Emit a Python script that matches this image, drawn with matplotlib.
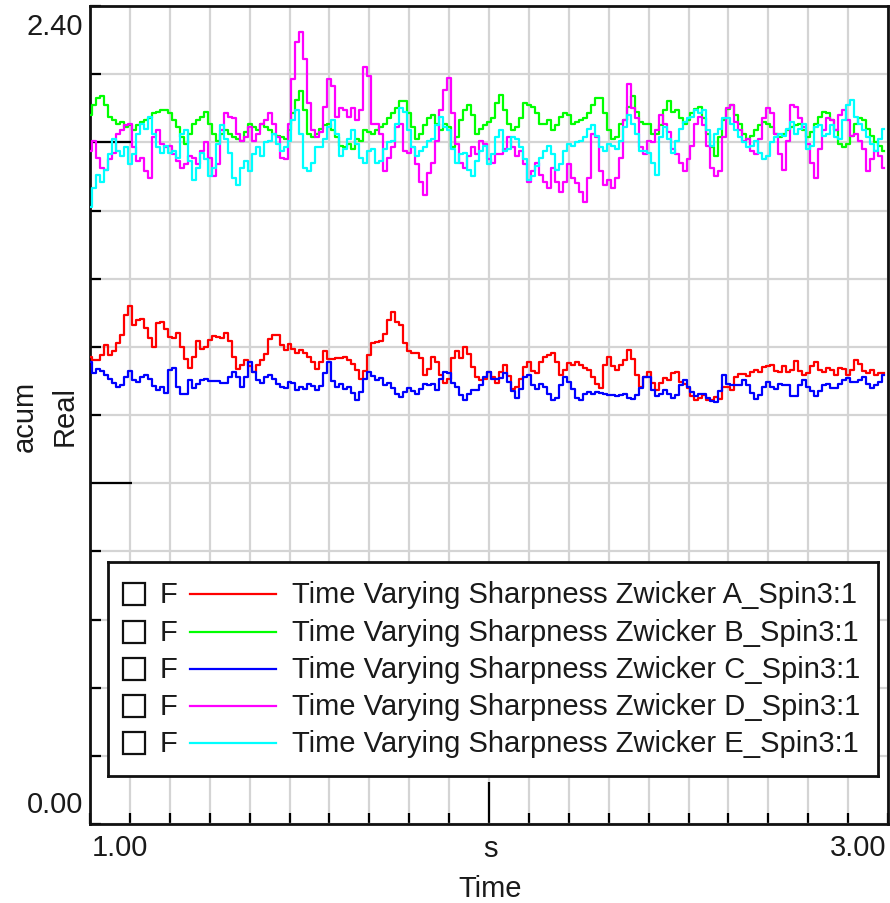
import numpy as np
import matplotlib
matplotlib.use("Agg")
import matplotlib.pyplot as plt
from matplotlib.patches import Rectangle
from matplotlib.ticker import MultipleLocator, FixedLocator

plt.rcParams["font.family"] = ["Liberation Sans", "DejaVu Sans"]

# ─── Data: time-varying Zwicker sharpness, 5 channels (acum) ────────────────

t_start, t_step = 1.00, 0.01

sharp_a = [
    1.371, 1.361, 1.361, 1.376, 1.405, 1.376, 1.388, 1.410, 1.435, 1.493,
    1.520, 1.464, 1.479, 1.483, 1.454, 1.425, 1.400, 1.469, 1.474, 1.451,
    1.430, 1.425, 1.440, 1.400, 1.363, 1.337, 1.371, 1.418, 1.395, 1.400,
    1.420, 1.432, 1.430, 1.425, 1.440, 1.418, 1.371, 1.334, 1.346, 1.361,
    1.343, 1.327, 1.346, 1.361, 1.379, 1.422, 1.435, 1.435, 1.405, 1.390,
    1.408, 1.395, 1.383, 1.392, 1.383, 1.369, 1.356, 1.334, 1.356, 1.388,
    1.363, 1.363, 1.366, 1.366, 1.371, 1.361, 1.349, 1.332, 1.307, 1.330,
    1.376, 1.412, 1.415, 1.418, 1.437, 1.480, 1.503, 1.474, 1.464, 1.412,
    1.388, 1.383, 1.383, 1.366, 1.317, 1.334, 1.371, 1.356, 1.317, 1.294,
    1.307, 1.366, 1.388, 1.366, 1.400, 1.379, 1.341, 1.312, 1.302, 1.307,
    1.326, 1.312, 1.294, 1.327, 1.346, 1.314, 1.275, 1.283, 1.307, 1.341,
    1.356, 1.330, 1.324, 1.356, 1.371, 1.375, 1.381, 1.356, 1.317, 1.332,
    1.353, 1.347, 1.356, 1.346, 1.339, 1.332, 1.312, 1.290, 1.278, 1.346,
    1.371, 1.343, 1.332, 1.348, 1.361, 1.392, 1.363, 1.317, 1.283, 1.312,
    1.326, 1.294, 1.273, 1.294, 1.310, 1.304, 1.322, 1.327, 1.296, 1.292,
    1.278, 1.255, 1.243, 1.251, 1.258, 1.245, 1.243, 1.253, 1.248, 1.283,
    1.283, 1.273, 1.312, 1.320, 1.320, 1.314, 1.326, 1.332, 1.326, 1.341,
    1.343, 1.346, 1.330, 1.327, 1.343, 1.327, 1.332, 1.359, 1.330, 1.318,
    1.322, 1.345, 1.355, 1.332, 1.326, 1.339, 1.332, 1.317, 1.339, 1.334,
    1.317, 1.332, 1.361, 1.351, 1.328, 1.322, 1.332, 1.317, 1.322, 1.322,
]

sharp_b = [
    2.080, 2.110, 2.130, 2.135, 2.110, 2.075, 2.065, 2.055, 2.060, 2.045,
    2.050, 2.035, 2.050, 2.060, 2.065, 2.070, 2.085, 2.090, 2.095, 2.095,
    2.085, 2.065, 2.045, 2.015, 1.995, 2.025, 2.055, 2.065, 2.075, 2.090,
    2.055, 2.025, 2.005, 2.025, 2.035, 2.025, 2.015, 2.010, 2.005, 2.030,
    2.055, 2.045, 2.035, 2.055, 2.045, 2.035, 2.025, 2.020, 2.015, 2.010,
    2.035, 2.085, 2.125, 2.150, 2.095, 2.025, 2.015, 2.025, 2.040, 2.050,
    2.055, 2.035, 2.015, 1.990, 1.985, 1.995, 1.980, 2.010, 2.005, 2.035,
    2.030, 2.025, 2.035, 2.045, 2.055, 2.070, 2.085, 2.100, 2.120, 2.120,
    2.085, 2.045, 2.010, 2.025, 2.050, 2.070, 2.080, 2.055, 2.035, 2.055,
    2.045, 1.985, 2.015, 2.065, 2.095, 2.110, 2.080, 2.025, 2.040, 2.050,
    2.060, 2.070, 2.115, 2.140, 2.095, 2.055, 2.035, 2.045, 2.070, 2.115,
    2.110, 2.105, 2.085, 2.055, 2.055, 2.065, 2.035, 2.050, 2.075, 2.085,
    2.080, 2.055, 2.060, 2.065, 2.070, 2.085, 2.110, 2.130, 2.130, 2.085,
    2.035, 2.010, 2.015, 2.055, 2.065, 2.105, 2.135, 2.090, 2.060, 2.055,
    2.055, 2.025, 2.025, 2.050, 2.095, 2.120, 2.090, 2.095, 2.070, 2.055,
    2.065, 2.085, 2.097, 2.105, 2.070, 2.025, 1.985, 1.960, 2.015, 2.065,
    2.097, 2.110, 2.080, 2.055, 2.025, 2.010, 2.020, 2.035, 2.050, 2.060,
    2.055, 2.045, 2.025, 2.015, 2.025, 2.035, 2.045, 2.050, 2.055, 2.035,
    2.015, 2.030, 2.055, 2.075, 2.090, 2.085, 2.065, 2.035, 1.995, 1.985,
    1.995, 2.020, 2.055, 2.070, 2.065, 2.040, 2.020, 2.000, 1.990, 1.975,
]

sharp_c = [
    1.356, 1.322, 1.334, 1.330, 1.317, 1.306, 1.294, 1.283, 1.288, 1.312,
    1.330, 1.304, 1.297, 1.312, 1.316, 1.307, 1.285, 1.273, 1.281, 1.265,
    1.332, 1.337, 1.283, 1.261, 1.263, 1.302, 1.278, 1.292, 1.304, 1.307,
    1.300, 1.300, 1.300, 1.294, 1.294, 1.312, 1.326, 1.312, 1.283, 1.312,
    1.356, 1.327, 1.302, 1.294, 1.312, 1.316, 1.306, 1.292, 1.281, 1.278,
    1.297, 1.294, 1.273, 1.281, 1.275, 1.290, 1.285, 1.273, 1.285, 1.322,
    1.356, 1.300, 1.283, 1.290, 1.275, 1.281, 1.265, 1.243, 1.268, 1.307,
    1.327, 1.314, 1.302, 1.310, 1.287, 1.294, 1.278, 1.263, 1.253, 1.268,
    1.278, 1.271, 1.263, 1.275, 1.290, 1.288, 1.290, 1.273, 1.307, 1.326,
    1.322, 1.294, 1.283, 1.258, 1.245, 1.261, 1.273, 1.273, 1.287, 1.312,
    1.327, 1.307, 1.307, 1.310, 1.322, 1.297, 1.271, 1.251, 1.275, 1.312,
    1.317, 1.288, 1.277, 1.290, 1.283, 1.261, 1.245, 1.251, 1.288, 1.312,
    1.298, 1.275, 1.251, 1.243, 1.263, 1.267, 1.263, 1.268, 1.265, 1.263,
    1.259, 1.259, 1.257, 1.260, 1.263, 1.251, 1.247, 1.259, 1.279, 1.312,
    1.312, 1.273, 1.257, 1.261, 1.273, 1.261, 1.249, 1.258, 1.288, 1.302,
    1.281, 1.268, 1.257, 1.261, 1.263, 1.251, 1.240, 1.239, 1.269, 1.317,
    1.290, 1.287, 1.288, 1.287, 1.302, 1.288, 1.265, 1.247, 1.259, 1.283,
    1.296, 1.283, 1.277, 1.290, 1.288, 1.287, 1.255, 1.257, 1.288, 1.302,
    1.281, 1.269, 1.257, 1.269, 1.288, 1.290, 1.279, 1.279, 1.290, 1.302,
    1.310, 1.298, 1.296, 1.302, 1.312, 1.290, 1.279, 1.288, 1.298, 1.317,
]

sharp_d = [
    1.975, 2.005, 1.955, 1.925, 1.920, 1.950, 1.970, 2.025, 2.035, 2.050,
    2.055, 1.985, 1.945, 1.955, 1.915, 1.895, 2.015, 2.035, 1.995, 1.985,
    1.990, 1.965, 1.945, 1.925, 1.935, 1.960, 1.955, 1.935, 1.975, 2.000,
    1.955, 1.900, 1.935, 2.035, 2.085, 2.075, 2.070, 2.025, 2.005, 2.015,
    2.045, 2.005, 2.025, 2.055, 2.065, 2.085, 2.055, 2.015, 1.955, 1.950,
    2.055, 2.185, 2.295, 2.323, 2.245, 2.115, 2.035, 2.015, 2.030, 2.105,
    2.185, 2.165, 2.075, 2.100, 2.095, 2.075, 2.100, 2.065, 2.095, 2.220,
    2.195, 2.055, 2.055, 2.025, 1.915, 1.955, 1.985, 2.045, 2.055, 1.975,
    1.970, 1.985, 1.935, 1.885, 1.845, 1.910, 1.940, 2.005, 2.095, 2.155,
    2.190, 2.085, 1.995, 1.940, 1.925, 1.960, 1.985, 1.965, 2.005, 1.995,
    1.950, 1.940, 1.965, 1.965, 1.980, 2.015, 1.985, 1.960, 1.975, 1.935,
    1.885, 1.915, 1.940, 1.905, 1.885, 1.865, 1.925, 1.885, 1.855, 1.885,
    1.935, 1.895, 1.880, 1.855, 1.825, 1.895, 2.025, 2.015, 1.915, 1.875,
    1.890, 1.865, 1.895, 1.955, 2.065, 2.170, 2.100, 2.070, 1.985, 1.965,
    2.005, 2.000, 2.035, 2.080, 2.055, 2.030, 1.980, 1.965, 1.940, 1.915,
    1.950, 1.990, 2.055, 2.075, 2.050, 1.990, 1.925, 1.900, 1.915, 2.015,
    2.100, 2.110, 2.060, 2.035, 2.005, 2.010, 1.975, 1.965, 2.010, 2.070,
    2.100, 2.085, 2.025, 1.965, 1.920, 2.005, 2.110, 2.105, 2.070, 2.045,
    1.995, 1.940, 1.895, 1.980, 2.035, 2.070, 2.065, 2.035, 2.080, 2.095,
    2.065, 2.020, 2.025, 2.005, 1.980, 1.915, 1.950, 1.975, 1.960, 1.925,
]

sharp_e = [
    1.810, 1.865, 1.905, 1.885, 1.920, 1.965, 2.010, 1.975, 1.960, 1.985,
    1.935, 1.965, 2.025, 2.055, 2.040, 2.075, 2.025, 1.985, 1.970, 1.990,
    1.970, 1.975, 1.955, 2.025, 2.035, 1.945, 1.890, 1.925, 1.970, 1.950,
    1.900, 1.925, 1.995, 2.050, 2.010, 1.970, 1.895, 1.875, 1.925, 1.945,
    1.915, 1.965, 1.985, 1.960, 2.000, 2.005, 2.025, 1.995, 1.975, 1.985,
    2.005, 2.065, 2.095, 2.025, 1.925, 1.915, 1.940, 1.985, 1.985, 2.010,
    2.045, 2.065, 2.025, 1.960, 1.980, 2.010, 2.035, 1.995, 1.955, 1.940,
    1.975, 1.980, 1.940, 1.945, 1.980, 2.000, 2.005, 2.055, 2.100, 2.090,
    2.035, 1.985, 1.960, 1.975, 1.985, 2.005, 2.010, 2.050, 2.075, 2.045,
    2.035, 1.980, 1.940, 1.965, 1.970, 1.920, 1.900, 1.945, 1.975, 1.990,
    1.935, 1.965, 2.015, 2.035, 1.975, 1.980, 2.015, 2.010, 1.985, 1.950,
    1.890, 1.900, 1.930, 1.955, 1.975, 1.990, 1.965, 1.920, 1.935, 1.975,
    1.995, 1.990, 2.000, 2.005, 2.015, 2.040, 2.050, 2.020, 1.985, 1.975,
    1.995, 1.990, 1.980, 2.005, 2.045, 2.080, 2.055, 2.025, 1.975, 1.975,
    1.970, 1.940, 1.905, 2.015, 2.045, 2.010, 1.970, 2.005, 2.040, 2.060,
    2.070, 2.075, 2.095, 2.085, 2.095, 2.035, 1.990, 2.025, 2.040, 2.070,
    2.070, 2.055, 2.035, 2.015, 2.000, 1.985, 1.990, 2.005, 1.970, 1.950,
    1.960, 2.000, 2.015, 2.025, 2.020, 2.040, 2.060, 2.025, 2.040, 2.055,
    1.980, 1.990, 2.045, 2.050, 2.020, 2.025, 2.050, 2.015, 2.010, 2.065,
    2.110, 2.125, 2.075, 2.055, 2.035, 2.015, 1.995, 1.975, 2.010, 2.040,
]

series_labels = [
    "Time Varying Sharpness Zwicker A_Spin3:1",
    "Time Varying Sharpness Zwicker B_Spin3:1",
    "Time Varying Sharpness Zwicker C_Spin3:1",
    "Time Varying Sharpness Zwicker D_Spin3:1",
    "Time Varying Sharpness Zwicker E_Spin3:1",
]
series_values = [sharp_a, sharp_b, sharp_c, sharp_d, sharp_e]
series_colors = ["#ff0000", "#00ff00", "#0000ff", "#ff00ff", "#00ffff"]

x_min, x_max = 1.00, 3.00
y_min, y_max = 0.00, 2.40

# ─── Figure ─────────────────────────────────────────────────────────────────

W, H = 890, 904
fig = plt.figure(figsize=(W / 100, H / 100), dpi=100)
fig.patch.set_facecolor("white")


def fx(px):
    return px / W


def fy(py):
    return 1 - py / H


ax = fig.add_axes([fx(90), fy(825), fx(888) - fx(90), fy(7) - fy(825)])

for vals, col in zip(series_values, series_colors):
    t = t_start + t_step * np.arange(len(vals))
    ax.plot(t, vals, color=col, lw=1.6, drawstyle="steps-mid", zorder=3)

ax.set_xlim(x_min, x_max)
ax.set_ylim(y_min, y_max)

# grid every 0.1 s / 0.2 units, long ticks on the round values
ax.xaxis.set_major_locator(FixedLocator([2.0]))
ax.xaxis.set_minor_locator(MultipleLocator(0.1))
ax.yaxis.set_major_locator(FixedLocator([1.0, 2.0]))
ax.yaxis.set_minor_locator(MultipleLocator(0.2))
ax.grid(True, which="both", color="#d4d4d4", lw=1.6, zorder=0)
ax.set_axisbelow(True)
ax.tick_params(which="major", direction="in", length=30, width=1.6,
               color="black", labelbottom=False, labelleft=False)
ax.tick_params(which="minor", direction="in", length=8, width=1.6,
               color="black")
for sp in ax.spines.values():
    sp.set_linewidth(2.0)
    sp.set_color("#111111")

txt = dict(fontsize=21, color="#1a1a1a")

# axis-end labels
fig.text(fx(83), fy(27), "2.40", ha="right", va="center", **txt)
fig.text(fx(83), fy(805), "0.00", ha="right", va="center", **txt)
fig.text(fx(92), fy(848), "1.00", ha="left", va="center", **txt)
fig.text(fx(886), fy(848), "3.00", ha="right", va="center", **txt)
fig.text(fx(490), fy(849), "s", ha="center", va="center", **txt)
fig.text(fx(490), fy(889), "Time", ha="center", va="center", **txt)
fig.text(fx(25), fy(416), "acum", ha="center", va="center", rotation=90, **txt)
fig.text(fx(65), fy(416), "Real", ha="center", va="center", rotation=90, **txt)

# ─── Legend box (pixel coordinates) ─────────────────────────────────────────

lx0, lx1, ly0, ly1 = 108, 878, 563, 777
leg = fig.add_axes([fx(lx0), fy(ly1), fx(lx1) - fx(lx0), fy(ly0) - fy(ly1)])
leg.set_xlim(lx0, lx1)
leg.set_ylim(ly1, ly0)
leg.set_xticks([])
leg.set_yticks([])
leg.set_facecolor("white")
for sp in leg.spines.values():
    sp.set_linewidth(2.0)
    sp.set_color("#111111")

row_y = [595, 633, 670, 707, 744]
for yy, lab, col in zip(row_y, series_labels, series_colors):
    leg.add_patch(Rectangle((123, yy - 11), 22, 22, fill=False,
                            edgecolor="#111111", lw=1.6))
    leg.text(160, yy, "F", ha="left", va="center", **txt)
    leg.plot([190, 276], [yy, yy], color=col, lw=1.6)
    leg.text(292, yy, lab, ha="left", va="center", **txt)

fig.savefig("out.png", dpi=100)
